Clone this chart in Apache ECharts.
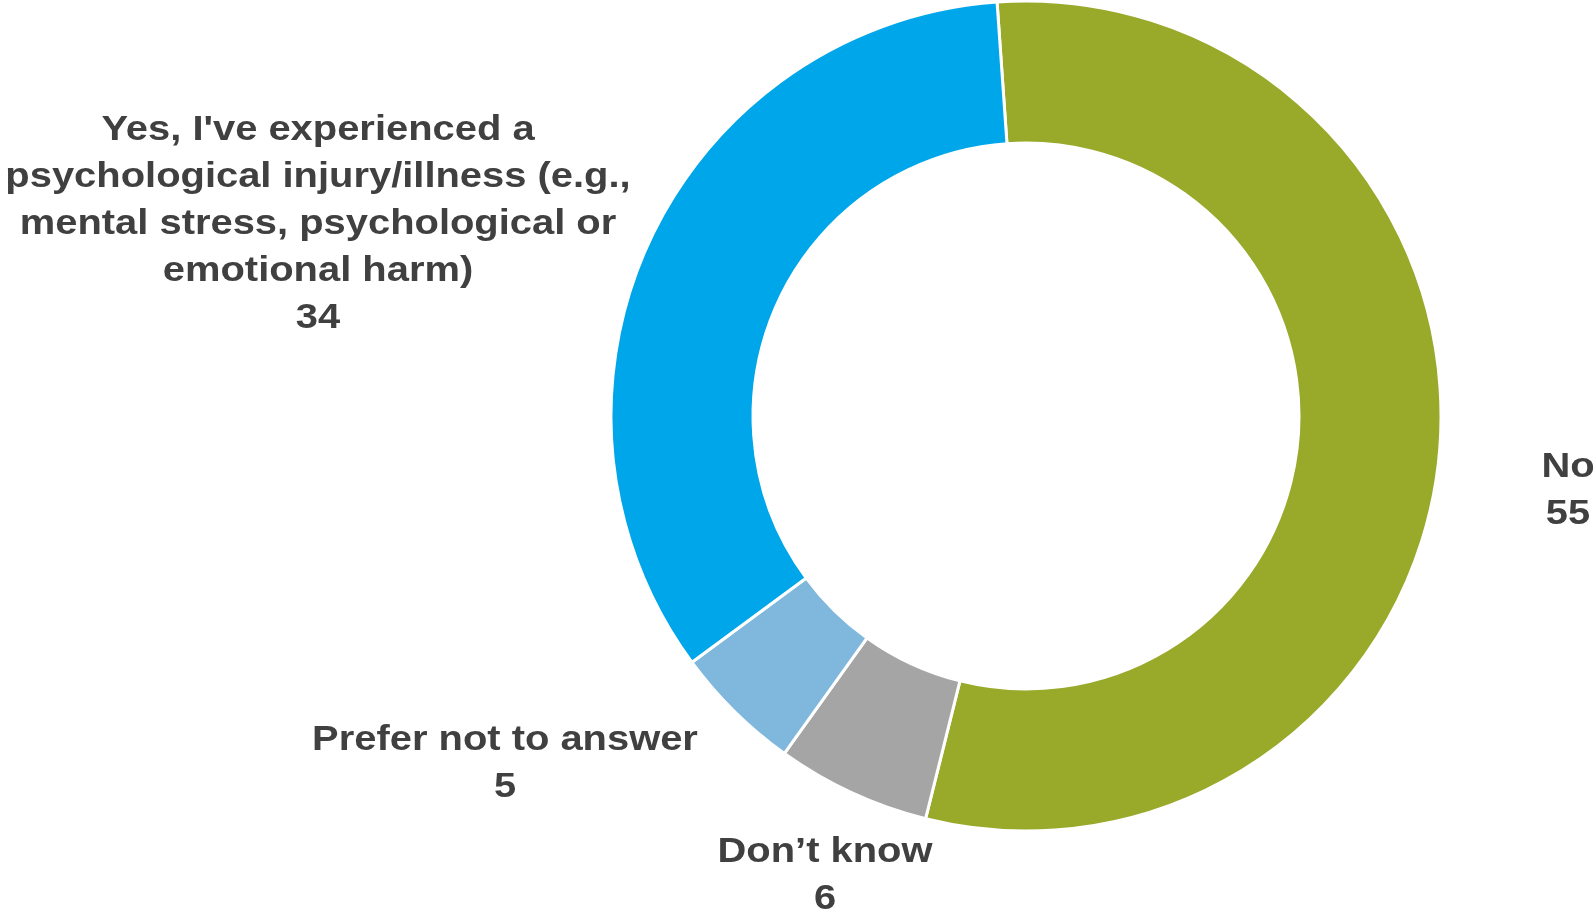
<!DOCTYPE html>
<html>
<head>
<meta charset="utf-8">
<script src="https://cdn.jsdelivr.net/npm/echarts@6/dist/echarts.min.js"></script>
<style>html,body{margin:0;padding:0;background:#fff;}#c{width:1595px;height:912px;}</style>
</head>
<body>
<div id="c"></div>
<script>
const categories = [
  "No",
  "Don\u2019t know",
  "Prefer not to answer",
  "Yes, I've experienced a\npsychological injury/illness (e.g.,\nmental stress, psychological or\nemotional harm)"
];
const values = [55, 6, 5, 34];
const colors = ["#99A92A", "#A5A5A5", "#7FB8DC", "#00A6EA"];

const labelPos = [
  {x: 1568, y: 491},
  {x: 825, y: 876},
  {x: 505, y: 764},
  {x: 318, y: 224}
];

const chart = echarts.init(document.getElementById('c'));
chart.setOption({
  animation: false,
  graphic: categories.map((c, i) => ({
    type: 'text',
    x: labelPos[i].x,
    y: labelPos[i].y,
    scaleX: 1.14,
    silent: true,
    style: {
      text: c + '\n' + values[i],
      fontFamily: 'Liberation Sans, Arial, sans-serif',
      fontWeight: 'bold',
      fontSize: 35,
      lineHeight: 47,
      fill: '#404040',
      align: 'center',
      verticalAlign: 'middle'
    }
  })),
  series: [{
    type: 'pie',
    center: [1026, 416],
    radius: [273, 415],
    startAngle: 94,
    clockwise: true,
    itemStyle: {borderColor: '#fff', borderWidth: 3},
    label: {show: false},
    labelLine: {show: false},
    data: categories.map((c, i) => ({name: c, value: values[i], itemStyle: {color: colors[i]}}))
  }]
});
</script>
</body>
</html>
